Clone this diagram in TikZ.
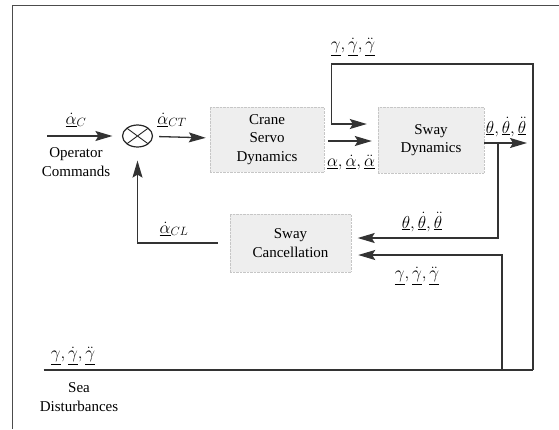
\documentclass[tikz,border=0pt]{standalone}
\usepackage{fontspec}
\setmainfont{Liberation Serif}
\usetikzlibrary{arrows.meta,shapes.geometric}

\begin{document}
\begin{tikzpicture}[x=1pt,y={(0,-1pt)}]
	\tikzset{block/.style={draw=gray!45, densely dotted, fill=gray!13, align=center, font=\fontsize{15}{18.3}\selectfont}}
	\tikzset{sumnode/.style={ellipse, draw=black!85, line width=1.2pt, minimum width=30pt, minimum height=22pt, inner sep=0pt,
			path picture={\draw[line width=0.9pt] (path picture bounding box.north west) -- (path picture bounding box.south east)
				(path picture bounding box.south west) -- (path picture bounding box.north east);}}}
	\tikzset{sig/.style={draw=black!80, line width=1.3pt}}
	\tikzset{arr/.style={sig, -{Stealth[length=17pt,width=10pt,inset=3pt]}}}
	\tikzset{lbl/.style={inner sep=0pt, align=center, font=\fontsize{15}{18.3}\selectfont}}
	\tikzset{mlbl/.style={inner sep=0pt, font=\fontsize{17}{20}\selectfont}}
	\useasboundingbox (0,0) rectangle (559,429);
	\draw[black!70, line width=0.8pt] (12.5,429) -- (12.5,5) -- (559,5);
	% blocks
	\node[sumnode] (sum) at (137.5,136) {};
	\node[block, minimum width=114pt, minimum height=65pt] (crane) at (267,139.5) {Crane\\Servo\\Dynamics};
	\node[block, minimum width=106pt, minimum height=66pt] (sway) at (431,140) {Sway\\Dynamics};
	\node[block, minimum width=121pt, minimum height=58pt] (cancel) at (290.5,243) {Sway\\Cancellation};
	\coordinate (cmd) at (47,136);
	\coordinate (out) at (527,143);
	\coordinate (tap) at (498,143);
	\coordinate (seaL) at (43.5,370);
	\coordinate (seaR) at (533,370);
	\coordinate (tap2) at (502,370);
	\coordinate (gturn) at (331.5,64);
	% signals
	\draw[arr, shorten >=9.5pt] (cmd) -- (sum);
	\draw[arr, shorten <=6pt, shorten >=4pt] (sum) -- (crane);
	\draw[arr, shorten <=4pt, shorten >=6pt] ([yshift=-1.5pt]crane.east) -- ([yshift=-1.5pt]crane.east -| sway.west);
	\draw[arr] (sway.east |- out) -- (out);
	\draw[sig] (seaL) -- (seaR);
	\draw[arr, shorten >=11pt] (seaR) |- (gturn) |- ([yshift=16pt]sway.west);
	\draw[arr, shorten >=6.5pt] (tap) |- ([yshift=5pt]cancel.east);
	\draw[arr, shorten >=7pt] (tap2) |- ([yshift=-12pt]cancel.east);
	\draw[arr, shorten <=12pt, shorten >=13pt] (cancel.west) -| (sum.south);
	% labels
	\node[mlbl] (lc) at (76,120) {$\underline{\dot\alpha}_C$};
	\node[lbl] (lop) at (76,162) {Operator\\Commands};
	\node[mlbl] (lct) at (172,120) {$\underline{\dot\alpha}_{CT}$};
	\node[mlbl] (lgtop) at (353,47) {$\underline{\gamma}, \underline{\dot\gamma}, \underline{\ddot\gamma}$};
	\node[mlbl] (lalpha) at (351,163) {$\underline{\alpha}, \underline{\dot\alpha}, \underline{\ddot\alpha}$};
	\node[mlbl] (ltout) at (506,127) {$\underline{\theta}, \underline{\dot\theta}, \underline{\ddot\theta}$};
	\node[mlbl] (ltfb) at (422,222) {$\underline{\theta}, \underline{\dot\theta}, \underline{\ddot\theta}$};
	\node[mlbl] (lgfb) at (417,276) {$\underline{\gamma}, \underline{\dot\gamma}, \underline{\ddot\gamma}$};
	\node[mlbl] (lcl) at (174,229) {$\underline{\dot\alpha}_{CL}$};
	\node[mlbl] (lgsea) at (73,356) {$\underline{\gamma}, \underline{\dot\gamma}, \underline{\ddot\gamma}$};
	\node[lbl] (lsea) at (79,397) {Sea\\Disturbances};
\end{tikzpicture}
\end{document}
